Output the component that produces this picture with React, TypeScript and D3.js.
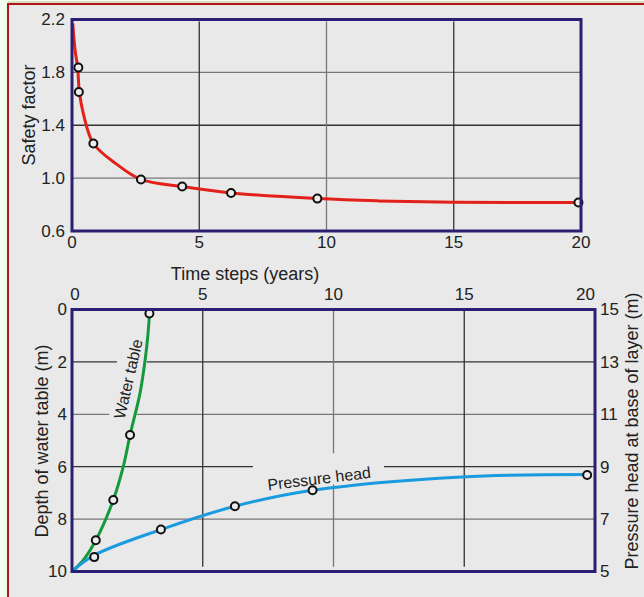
import React from 'react';
import * as d3 from 'd3';

// safety factor over time (top panel)
const safetyCurve: [number, number][] = [
  [0.03, 2.17], [0.12, 1.97], [0.22, 1.84], [0.29, 1.65], [0.45, 1.485], [0.84, 1.262],
  [1.75, 1.106], [2.71, 0.99], [4.33, 0.936], [6.25, 0.888], [9.64, 0.845], [12, 0.828],
  [15, 0.818], [19.9, 0.815],
];
const safetyPoints: [number, number][] = [
  [0.25, 1.836], [0.27, 1.652], [0.84, 1.262], [2.71, 0.99], [4.33, 0.936], [6.25, 0.888],
  [9.64, 0.845], [19.9, 0.815],
];

// water table depth (bottom panel, left axis)
const waterCurve: [number, number][] = [
  [0, 10], [0.43, 9.57], [0.91, 8.81], [1.58, 7.27], [1.96, 6.0], [2.22, 4.79],
  [2.6, 3.2], [2.8, 1.9], [2.9, 1.0], [2.96, 0.2],
];
const waterPoints: [number, number][] = [[2.96, 0.15], [2.22, 4.79], [1.58, 7.27], [0.91, 8.81]];

// pressure head (bottom panel, right axis)
const pressureCurve: [number, number][] = [
  [0, 5], [0.85, 5.62], [3.4, 6.6], [6.23, 7.49], [9.2, 8.1], [14.9, 8.61], [19.7, 8.7],
];
const pressurePoints: [number, number][] = [[0.85, 5.55], [3.4, 6.6], [6.23, 7.49], [9.2, 8.1], [19.7, 8.68]];

const timeTicks = [0, 5, 10, 15, 20];
const safetyTicks = [0.6, 1.0, 1.4, 1.8, 2.2];
const depthTicks = [0, 2, 4, 6, 8, 10];
const headTicks = [5, 7, 9, 11, 13, 15];

// gaps in grid lines (data units) where labels sit
const depthGridGaps: Record<number, [number, number]> = { 2: [1.72, 2.86], 4: [1.42, 2.48], 6: [6.92, 11.93] };
const timeGridGaps: Record<number, [number, number]> = { 10: [5.49, 6.68] };

const FONT = '"Liberation Sans", Arial, sans-serif';
const frameColor = '#2b1f73';
const textColor = '#222';

export default function App() {
  const W = 644, H = 597;

  // top panel
  const xTop = d3.scaleLinear().domain([0, 20]).range([72, 581]);
  const yTop = d3.scaleLinear().domain([0.6, 2.2]).range([231, 19.5]);
  // bottom panel
  const xBot = d3.scaleLinear().domain([0, 20]).range([72, 595]);
  const yDepth = d3.scaleLinear().domain([0, 10]).range([309.5, 571.5]);
  const yHead = d3.scaleLinear().domain([15, 5]).range([309.5, 571.5]);

  const lineTop = d3.line<[number, number]>().x(d => xTop(d[0])).y(d => yTop(d[1])).curve(d3.curveCatmullRom.alpha(0.5));
  const lineWater = d3.line<[number, number]>().x(d => xBot(d[0])).y(d => yDepth(d[1])).curve(d3.curveCatmullRom.alpha(0.5));
  const linePress = d3.line<[number, number]>().x(d => xBot(d[0])).y(d => yHead(d[1])).curve(d3.curveCatmullRom.alpha(0.5));

  const gridCol = (i: number) => (i % 2 === 0 ? '#333' : '#777');

  const marker = (x: number, y: number, k: string) => (
    <circle key={k} cx={x} cy={y} r={4} fill="#ececec" stroke="#111" strokeWidth={2} />
  );

  return (
    <svg width={W} height={H} style={{ position: 'absolute', left: 0, top: 0 }} fontFamily={FONT}>
      <rect x={0} y={0} width={W} height={H} fill="#eefff0" />
      <line x1={8} x2={W} y1={2} y2={2} stroke="#c8b890" strokeWidth={1} />
      <rect x={8} y={4} width={W + 20} height={H + 20} fill="#e9e9e9" stroke="#b3141a" strokeWidth={2} />

      {/* ---------- TOP PANEL ---------- */}
      {safetyTicks.slice(1, -1).map((t, i) => (
        <line key={'th' + t} x1={xTop(0)} x2={xTop(20)} y1={yTop(t)} y2={yTop(t)} stroke={gridCol(i + 1)} strokeWidth={1.3} />
      ))}
      {timeTicks.slice(1, -1).map((t, i) => (
        <line key={'tv' + t} x1={xTop(t)} x2={xTop(t)} y1={yTop(2.2) + 2} y2={yTop(0.6)} stroke={gridCol(i)} strokeWidth={1.3} />
      ))}
      <path d={lineTop(safetyCurve) || ''} fill="none" stroke="#e3211b" strokeWidth={3} />
      {safetyPoints.map((p, i) => marker(xTop(p[0]), yTop(p[1]), 's' + i))}
      <rect x={xTop(0)} y={yTop(2.2)} width={xTop(20) - xTop(0)} height={yTop(0.6) - yTop(2.2)} fill="none" stroke={frameColor} strokeWidth={3} />

      {safetyTicks.map(t => (
        <text key={'sy' + t} x={65} y={yTop(t)} dy="0.35em" textAnchor="end" fontSize={17} fill={textColor}>{t.toFixed(1)}</text>
      ))}
      {timeTicks.map(t => (
        <text key={'sx' + t} x={xTop(t)} y={248} textAnchor="middle" fontSize={17} fill={textColor}>{t}</text>
      ))}
      <text transform="translate(29,115) rotate(-90)" textAnchor="middle" dy="0.35em" fontSize={18} fill={textColor}>Safety factor</text>
      <text x={245} y={280} textAnchor="middle" fontSize={18} fill={textColor}>Time steps (years)</text>

      {/* ---------- BOTTOM PANEL ---------- */}
      {depthTicks.slice(1, -1).map((t, i) => {
        const gap = depthGridGaps[t];
        const col = gridCol(i);
        if (!gap) return <line key={'bh' + t} x1={xBot(0)} x2={xBot(20)} y1={yDepth(t)} y2={yDepth(t)} stroke={col} strokeWidth={1.3} />;
        return (
          <g key={'bh' + t}>
            <line x1={xBot(0)} x2={xBot(gap[0])} y1={yDepth(t)} y2={yDepth(t)} stroke={col} strokeWidth={1.3} />
            <line x1={xBot(gap[1])} x2={xBot(20)} y1={yDepth(t)} y2={yDepth(t)} stroke={col} strokeWidth={1.3} />
          </g>
        );
      })}
      {timeTicks.slice(1, -1).map((t, i) => {
        const gap = timeGridGaps[t];
        const col = gridCol(i);
        if (!gap) return <line key={'bv' + t} x1={xBot(t)} x2={xBot(t)} y1={yDepth(0)} y2={yDepth(9.82)} stroke={col} strokeWidth={1.3} />;
        return (
          <g key={'bv' + t}>
            <line x1={xBot(t)} x2={xBot(t)} y1={yDepth(0)} y2={yDepth(gap[0])} stroke={col} strokeWidth={1.3} />
            <line x1={xBot(t)} x2={xBot(t)} y1={yDepth(gap[1])} y2={yDepth(9.82)} stroke={col} strokeWidth={1.3} />
          </g>
        );
      })}

      <path d={lineWater(waterCurve) || ''} fill="none" stroke="#15993d" strokeWidth={3} />
      <path d={linePress(pressureCurve) || ''} fill="none" stroke="#1a9be0" strokeWidth={3} />
      {waterPoints.map((p, i) => marker(xBot(p[0]), yDepth(p[1]), 'w' + i))}
      {pressurePoints.map((p, i) => marker(xBot(p[0]), yHead(p[1]), 'p' + i))}

      <text transform={`translate(${xBot(2.15)},${yDepth(2.65)}) rotate(-77)`} textAnchor="middle" dy="0.35em" fontSize={16} fill={textColor}>Water table</text>
      <text transform={`translate(${xBot(9.45)},${yHead(8.55)}) rotate(-7)`} textAnchor="middle" dy="0.35em" fontSize={16} fill={textColor}>Pressure head</text>

      <rect x={xBot(0)} y={yDepth(0)} width={xBot(20) - xBot(0)} height={yDepth(10) - yDepth(0)} fill="none" stroke={frameColor} strokeWidth={3} />

      {timeTicks.map((t, i) => (
        <text key={'bx' + t} x={xBot(t) + (i === 0 ? 3 : 0)} y={300} textAnchor={i === timeTicks.length - 1 ? 'end' : 'middle'} fontSize={17} fill={textColor}>{t}</text>
      ))}
      {depthTicks.map(t => (
        <text key={'by' + t} x={67} y={yDepth(t)} dy="0.35em" textAnchor="end" fontSize={17} fill={textColor}>{t}</text>
      ))}
      {headTicks.map(t => (
        <text key={'bh2' + t} x={600} y={yHead(t)} dy="0.35em" textAnchor="start" fontSize={17} fill={textColor}>{t}</text>
      ))}
      <text transform="translate(42,441) rotate(-90)" textAnchor="middle" dy="0.35em" fontSize={18} fill={textColor}>Depth of water table (m)</text>
      <text transform="translate(632,431) rotate(-90)" textAnchor="middle" dy="0.35em" fontSize={18} fill={textColor}>Pressure head at base of layer (m)</text>
    </svg>
  );
}
